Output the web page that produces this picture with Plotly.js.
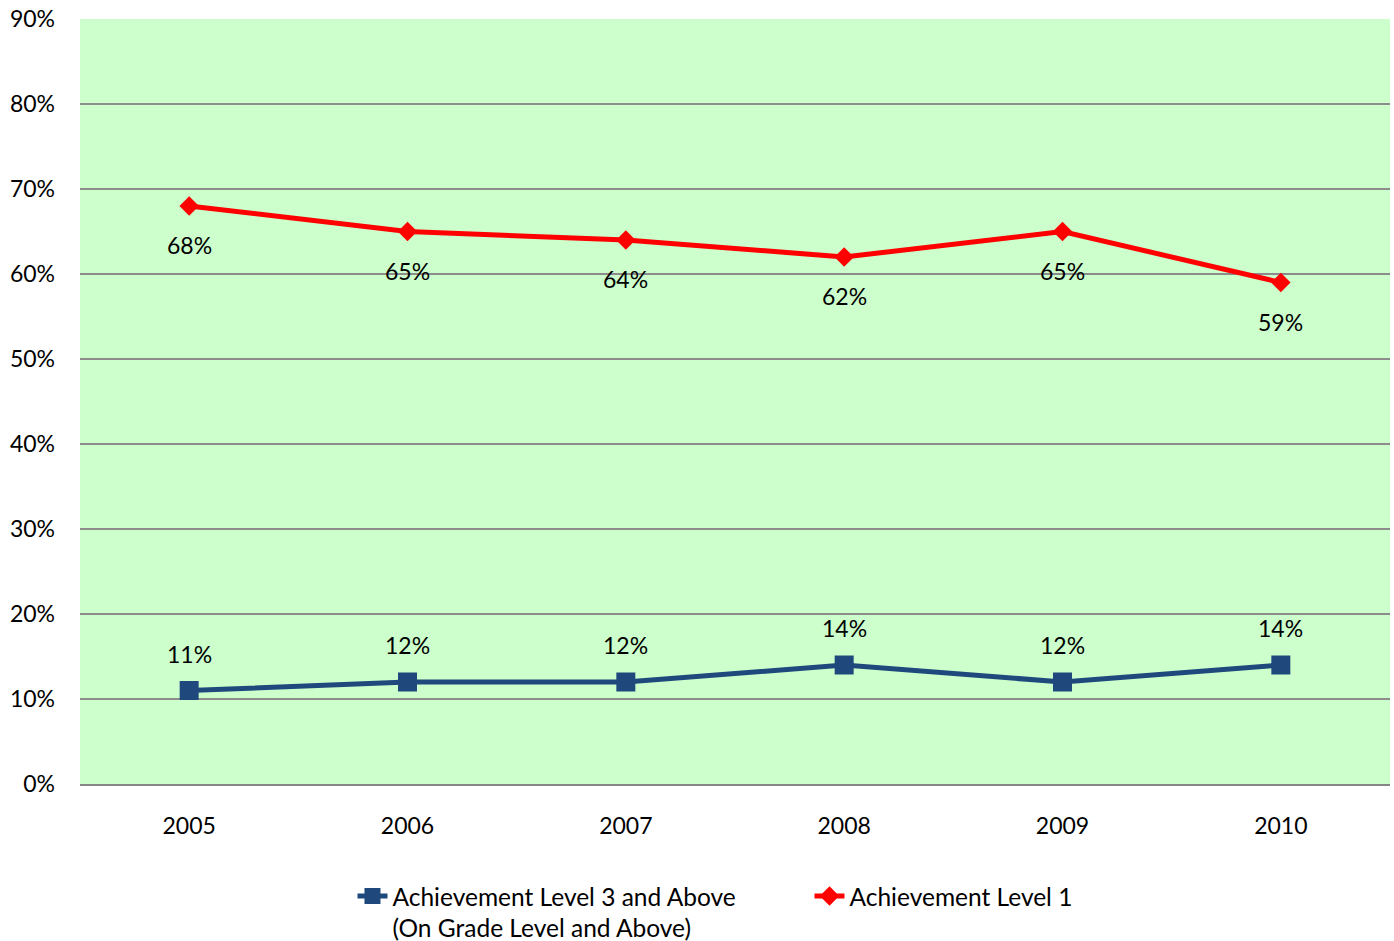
<!DOCTYPE html>
<html>
<head>
<meta charset="utf-8">
<script src="https://cdn.plot.ly/plotly-3.0.1.min.js"></script>
<style>html,body{margin:0;padding:0;background:#fff;}#chart{width:1394px;height:941px;}</style>
</head>
<body>
<div id="chart"></div>
<script>
const years = ['2005', '2006', '2007', '2008', '2009', '2010'];
const level3Above = [11, 12, 12, 14, 12, 14];
const level1 = [68, 65, 64, 62, 65, 59];
const level3Name = 'Achievement Level 3 and Above<br>(On Grade Level and Above)';
const level1Name = 'Achievement Level 1';
const yTickVals = [0, 10, 20, 30, 40, 50, 60, 70, 80, 90];
const yTickText = yTickVals.map(v => v + '%');

const FONT = 'Lato, "Open Sans", sans-serif';

const traces = [
  {
    x: years, y: level3Above, name: level3Name, type: 'scatter', mode: 'lines+markers',
    line: {color: '#1F497D', width: 5},
    marker: {symbol: 'square', size: 19, color: '#1F497D'},
    hoverinfo: 'skip'
  },
  {
    x: years, y: level1, name: level1Name, type: 'scatter', mode: 'lines+markers',
    line: {color: '#FF0000', width: 5},
    marker: {symbol: 'diamond', size: 15, color: '#FF0000'},
    hoverinfo: 'skip'
  }
];

const annotations = [];
years.forEach((yr, i) => {
  annotations.push({xref: 'x', yref: 'y', x: i, y: level3Above[i], text: level3Above[i] + '%', showarrow: false,
    yshift: 37, font: {size: 23, color: '#000', family: FONT}});
  annotations.push({xref: 'x', yref: 'y', x: i, y: level1[i], text: level1[i] + '%', showarrow: false,
    yshift: -39, font: {size: 23, color: '#000', family: FONT}});
});

const layout = {
  width: 1394, height: 941,
  margin: {l: 80, r: 4, t: 19, b: 157, autoexpand: false},
  paper_bgcolor: '#ffffff',
  plot_bgcolor: '#CCFFCC',
  font: {family: FONT, size: 23, color: '#000'},
  showlegend: true,
  legend: {orientation: 'h', x: 0.208, xanchor: 'left', yref: 'container', y: 0.0716, yanchor: 'top',
    font: {size: 24.5, family: FONT}, traceorder: 'normal', entrywidth: 412, entrywidthmode: 'pixels',
    valign: 'top', bgcolor: 'rgba(0,0,0,0)'},
  xaxis: {
    type: 'category', range: [-0.5, 5.5], showgrid: false,
    showline: true, linecolor: '#868686', linewidth: 2,
    ticks: 'outside', ticklen: 0, ticklabelstandoff: 20,
    tickfont: {size: 23, family: FONT}, zeroline: false, fixedrange: true
  },
  yaxis: {
    range: [0, 90], tickvals: yTickVals, ticktext: yTickText,
    showgrid: true, gridcolor: '#8C8C8C', gridwidth: 2,
    zeroline: false, showline: false, ticks: '', ticklabelstandoff: 24,
    tickfont: {size: 23, family: FONT}, fixedrange: true
  },
  annotations: annotations
};

Plotly.newPlot('chart', traces, layout, {displayModeBar: false, staticPlot: true});
</script>
</body>
</html>
